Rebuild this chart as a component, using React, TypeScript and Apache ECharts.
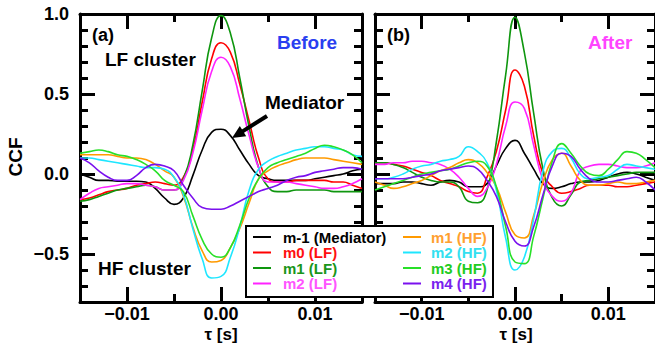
import React, { useEffect, useRef } from "react";
import * as echarts from "echarts";

// lag axis (s)
const tau = [
  -0.015, -0.014, -0.013, -0.012, -0.011, -0.01, -0.009, -0.008, -0.007, -0.006, -0.005,
  -0.004, -0.003, -0.002, -0.001, 0, 0.001, 0.002, 0.003, 0.004, 0.005, 0.006, 0.007,
  0.008, 0.009, 0.01, 0.011, 0.012, 0.013, 0.014, 0.015,
];

const seriesNames = ["m-1 (Mediator)", "m0 (LF)", "m1 (LF)", "m2 (LF)", "m1 (HF)", "m2 (HF)", "m3 (HF)", "m4 (HF)"];
const lineColors = ["#000000", "#ff0000", "#0e960e", "#ff22ff", "#ff9a00", "#1ee6ff", "#28e028", "#7a10ee"];
const labelColors = ["#000000", "#ff1010", "#1a961a", "#ff55ff", "#ffa030", "#33e0f0", "#22cc22", "#7a22ee"];

const xTickLabels = [-0.01, 0, 0.01];
const yTickLabels = [-0.5, 0, 0.5, 1.0];

// (a) Before
const beforeM_1 = [0.0, -0.02, -0.04, -0.04, -0.045, -0.045, -0.045, -0.05, -0.09, -0.15, -0.19, -0.15, -0.01, 0.15, 0.26, 0.28, 0.24, 0.15, 0.06, -0.01, -0.03, -0.04, -0.04, -0.04, -0.04, -0.03, -0.02, -0.01, 0.0, 0.02, 0.03];
const beforeM0LF = [-0.16, -0.15, -0.13, -0.11, -0.1, -0.09, -0.07, -0.06, -0.05, -0.06, -0.07, -0.02, 0.15, 0.45, 0.72, 0.82, 0.76, 0.56, 0.33, 0.1, -0.03, -0.05, -0.05, -0.04, -0.04, -0.04, -0.04, -0.05, -0.05, -0.07, -0.09];
const beforeM1LF = [-0.17, -0.16, -0.14, -0.12, -0.1, -0.09, -0.08, -0.07, -0.08, -0.1, -0.1, -0.03, 0.18, 0.52, 0.85, 0.99, 0.88, 0.6, 0.29, 0.04, -0.08, -0.11, -0.11, -0.1, -0.1, -0.1, -0.1, -0.11, -0.11, -0.11, -0.11];
const beforeM2LF = [-0.16, -0.12, -0.09, -0.08, -0.07, -0.06, -0.06, -0.07, -0.08, -0.1, -0.1, -0.04, 0.13, 0.4, 0.64, 0.73, 0.67, 0.47, 0.24, 0.04, -0.05, -0.05, -0.05, -0.06, -0.07, -0.08, -0.09, -0.09, -0.08, -0.06, -0.03];
const beforeM1HF = [0.12, 0.12, 0.12, 0.12, 0.11, 0.1, 0.1, 0.09, 0.06, 0.02, -0.02, -0.14, -0.33, -0.48, -0.55, -0.54, -0.46, -0.34, -0.18, -0.03, 0.02, 0.05, 0.07, 0.09, 0.1, 0.1, 0.1, 0.09, 0.08, 0.07, 0.06];
const beforeM2HF = [0.1, 0.1, 0.09, 0.08, 0.07, 0.06, 0.05, 0.04, 0.04, 0.03, -0.02, -0.13, -0.34, -0.53, -0.65, -0.64, -0.52, -0.33, -0.1, 0.03, 0.08, 0.11, 0.13, 0.15, 0.16, 0.17, 0.17, 0.16, 0.15, 0.12, 0.11];
const beforeM3HF = [0.13, 0.14, 0.15, 0.14, 0.12, 0.11, 0.09, 0.06, 0.02, -0.04, -0.07, -0.11, -0.26, -0.41, -0.5, -0.52, -0.46, -0.32, -0.15, -0.03, 0.04, 0.07, 0.09, 0.11, 0.13, 0.16, 0.18, 0.17, 0.15, 0.12, 0.07];
const beforeM4HF = [0.1, 0.07, 0.02, -0.02, -0.04, -0.04, -0.01, 0.04, 0.06, 0.05, 0.02, -0.07, -0.15, -0.21, -0.22, -0.22, -0.2, -0.17, -0.14, -0.11, -0.09, -0.07, -0.04, -0.02, -0.01, 0.01, 0.02, 0.03, 0.04, 0.04, 0.03];

// (b) After
const afterM_1 = [-0.06, -0.06, -0.06, -0.05, -0.05, -0.06, -0.07, -0.05, -0.04, -0.05, -0.08, -0.08, -0.06, 0.05, 0.16, 0.21, 0.13, 0.03, -0.06, -0.09, -0.08, -0.06, -0.05, -0.05, -0.04, -0.02, 0.0, 0.01, 0.0, -0.02, -0.04];
const afterM0LF = [0.07, 0.07, 0.06, 0.05, 0.03, 0.01, -0.01, -0.04, -0.06, -0.08, -0.11, -0.12, -0.02, 0.14, 0.4, 0.65, 0.55, 0.24, 0.0, -0.08, -0.12, -0.11, -0.09, -0.07, -0.07, -0.07, -0.08, -0.08, -0.07, -0.06, -0.05];
const afterM1LF = [0.07, 0.07, 0.06, 0.04, 0.01, -0.02, -0.04, -0.05, -0.05, -0.08, -0.17, -0.18, -0.1, 0.2, 0.62, 0.98, 0.76, 0.38, 0.03, -0.15, -0.2, -0.13, -0.05, -0.04, -0.03, -0.02, -0.01, 0.0, 0.01, 0.01, 0.01];
const afterM2LF = [0.06, 0.06, 0.07, 0.07, 0.08, 0.08, 0.07, 0.06, 0.03, -0.02, -0.09, -0.14, -0.09, 0.06, 0.3, 0.45, 0.41, 0.18, -0.04, -0.14, -0.17, -0.12, 0.02, 0.05, 0.06, 0.06, 0.05, 0.04, 0.04, 0.05, 0.07];
const afterM1HF = [-0.05, -0.07, -0.09, -0.08, -0.06, -0.04, -0.01, 0.02, 0.04, 0.07, 0.09, 0.07, 0.01, -0.08, -0.24, -0.38, -0.4, -0.26, -0.05, 0.09, 0.13, 0.05, -0.04, -0.07, -0.07, -0.06, -0.05, -0.06, -0.06, -0.05, -0.04];
const afterM2HF = [-0.03, -0.03, -0.02, 0.0, 0.03, 0.05, 0.06, 0.08, 0.09, 0.11, 0.17, 0.14, 0.07, -0.1, -0.4, -0.6, -0.52, -0.28, 0.02, 0.14, 0.16, 0.1, 0.0, -0.03, -0.02, -0.01, 0.03, 0.06, 0.05, 0.04, 0.03];
const afterM3HF = [-0.1, -0.08, -0.06, -0.04, -0.02, 0.0, 0.01, 0.02, 0.03, 0.05, 0.07, 0.08, 0.05, -0.08, -0.33, -0.55, -0.56, -0.39, -0.15, 0.08, 0.19, 0.13, 0.05, 0.0, -0.01, 0.03, 0.09, 0.14, 0.13, 0.09, 0.04];
const afterM4HF = [-0.03, -0.03, -0.03, -0.03, -0.02, -0.01, 0.0, 0.02, 0.03, 0.04, 0.05, 0.03, -0.04, -0.14, -0.3, -0.42, -0.45, -0.33, -0.13, 0.05, 0.13, 0.11, 0.03, -0.03, -0.05, -0.05, -0.04, -0.03, -0.02, -0.05, -0.1];

const beforeSeries = [beforeM_1, beforeM0LF, beforeM1LF, beforeM2LF, beforeM1HF, beforeM2HF, beforeM3HF, beforeM4HF];
const afterSeries = [afterM_1, afterM0LF, afterM1LF, afterM2LF, afterM1HF, afterM2HF, afterM3HF, afterM4HF];

const FONT = '"Liberation Sans", Arial, Helvetica, sans-serif';
const MINUS = "\u2212";

const fmt = (v: number, digits: number) => {
  const s = Math.abs(v).toFixed(digits);
  return v < -1e-9 ? MINUS + s : s;
};

const X_MIN = -0.015;
const X_MAX = 0.015;
const Y_MIN = -0.8;
const Y_MAX = 1.0;

function xAxesFor(gridIndex: number) {
  const common = {
    gridIndex,
    type: "value",
    min: X_MIN,
    max: X_MAX,
    splitLine: { show: false },
  };
  const frame = { show: true, onZero: false, lineStyle: { color: "#000", width: 3 } };
  const noLine = { show: false, onZero: false };
  return [
    {
      ...common,
      position: "bottom",
      axisLine: frame,
      axisTick: { show: true, inside: true, length: 15, customValues: xTickLabels, lineStyle: { color: "#000", width: 3 } },
      axisLabel: {
        show: true,
        customValues: xTickLabels,
        formatter: (v: number) => fmt(v, 2),
        color: "#000",
        fontFamily: FONT,
        fontWeight: "bold",
        fontSize: 18,
        lineHeight: 18,
        margin: 3,
      },
    },
    {
      ...common,
      position: "bottom",
      interval: 0.005,
      axisLine: noLine,
      axisTick: { show: true, inside: true, length: 8, lineStyle: { color: "#000", width: 3 } },
      axisLabel: { show: false },
    },
    {
      ...common,
      position: "top",
      axisLine: frame,
      axisTick: { show: true, inside: true, length: 15, customValues: xTickLabels, lineStyle: { color: "#000", width: 3 } },
      axisLabel: { show: false },
    },
    {
      ...common,
      position: "top",
      interval: 0.005,
      axisLine: noLine,
      axisTick: { show: true, inside: true, length: 8, lineStyle: { color: "#000", width: 3 } },
      axisLabel: { show: false },
    },
  ];
}

function yAxesFor(gridIndex: number, withLabels: boolean) {
  const common = {
    gridIndex,
    type: "value",
    min: Y_MIN,
    max: Y_MAX,
    splitLine: { show: false },
  };
  const frame = { show: true, onZero: false, lineStyle: { color: "#000", width: 3 } };
  const noLine = { show: false, onZero: false };
  const major = { show: true, inside: true, length: 15, customValues: yTickLabels, lineStyle: { color: "#000", width: 3 } };
  const minor = { show: true, inside: true, length: 8, lineStyle: { color: "#000", width: 3 } };
  return [
    {
      ...common,
      position: "left",
      axisLine: frame,
      axisTick: major,
      axisLabel: withLabels
        ? {
            show: true,
            customValues: yTickLabels,
            formatter: (v: number) => fmt(v, 1),
            color: "#000",
            fontFamily: FONT,
            fontWeight: "bold",
            fontSize: 18,
            margin: 11,
          }
        : { show: false },
    },
    { ...common, position: "left", interval: 0.1, axisLine: noLine, axisTick: minor, axisLabel: { show: false } },
    { ...common, position: "right", axisLine: frame, axisTick: major, axisLabel: { show: false } },
    { ...common, position: "right", interval: 0.1, axisLine: noLine, axisTick: minor, axisLabel: { show: false } },
  ];
}

function linesFor(panel: number[][], axisIndex: number) {
  return panel.map((vals, i) => ({
    name: seriesNames[i],
    type: "line",
    xAxisIndex: axisIndex,
    yAxisIndex: axisIndex,
    data: tau.map((t, k) => [t, vals[k]]),
    smooth: true,
    showSymbol: false,
    symbol: "none",
    lineStyle: { color: lineColors[i], width: 1.6 },
    itemStyle: { color: lineColors[i] },
    z: 2,
  }));
}

function legendGraphics() {
  const els: any[] = [
    {
      type: "rect",
      shape: { x: 246, y: 226, width: 247, height: 71 },
      style: { fill: "#fff", stroke: "#000", lineWidth: 2 },
      z: 20,
    },
  ];
  const rowY = [237, 252.5, 268, 283.5];
  seriesNames.forEach((name, i) => {
    const col = i < 4 ? 0 : 1;
    const row = i % 4;
    const lx = col === 0 ? 253 : 403;
    const tx = col === 0 ? 283 : 431;
    els.push({
      type: "line",
      shape: { x1: lx, y1: rowY[row], x2: lx + 18, y2: rowY[row] },
      style: { stroke: lineColors[i], lineWidth: 2 },
      z: 21,
    });
    els.push({
      type: "text",
      x: tx,
      y: rowY[row],
      style: {
        text: name,
        fill: labelColors[i],
        font: `bold 15px ${FONT}`,
        textAlign: "left",
        textVerticalAlign: "middle",
      },
      z: 21,
    });
  });
  return els;
}

function annotationGraphics() {
  const text = (s: string, x: number, y: number, fill = "#000", size = 19, align = "left") => ({
    type: "text",
    x,
    y,
    style: { text: s, fill, font: `bold ${size}px ${FONT}`, textAlign: align, textVerticalAlign: "middle" },
    z: 15,
  });
  // arrow pointing at the mediator peak
  const tip = [232, 138];
  const tail = [267, 116];
  const dx = tip[0] - tail[0];
  const dy = tip[1] - tail[1];
  const len = Math.hypot(dx, dy);
  const ux = dx / len;
  const uy = dy / len;
  const headLen = 13;
  const headHalf = 6;
  const bx = tip[0] - ux * headLen;
  const by = tip[1] - uy * headLen;
  const px = -uy * headHalf;
  const py = ux * headHalf;
  return [
    text("(a)", 92, 35, "#000", 18),
    text("(b)", 387, 35, "#000", 18),
    text("Before", 277, 42, "#2a3ff0"),
    text("After", 588, 42, "#ff44ff"),
    text("LF cluster", 105, 59),
    text("Mediator", 265, 102),
    text("HF cluster", 98, 268),
    text("\u03c4 [s]", 221, 334, "#000", 17, "center"),
    text("\u03c4 [s]", 516, 334, "#000", 17, "center"),
    {
      type: "text",
      x: 15,
      y: 157,
      rotation: Math.PI / 2,
      style: { text: "CCF", fill: "#000", font: `bold 19px ${FONT}`, textAlign: "center", textVerticalAlign: "middle" },
      z: 15,
    },
    {
      type: "line",
      shape: { x1: tail[0], y1: tail[1], x2: bx + ux, y2: by + uy },
      style: { stroke: "#000", lineWidth: 4 },
      z: 15,
    },
    {
      type: "polygon",
      shape: { points: [tip, [bx + px, by + py], [bx - px, by - py]] },
      style: { fill: "#000" },
      z: 15,
    },
  ];
}

export default function App() {
  const ref = useRef<HTMLDivElement>(null);

  useEffect(() => {
    if (!ref.current) return;
    const chart = echarts.init(ref.current, undefined, { renderer: "svg" });
    chart.setOption({
      animation: false,
      backgroundColor: "#ffffff",
      textStyle: { fontFamily: FONT },
      grid: [
        { left: 80, top: 14, width: 282, height: 288, outerBoundsMode: "none", containLabel: false },
        { left: 375, top: 14, width: 280, height: 288, outerBoundsMode: "none", containLabel: false },
      ],
      xAxis: [...xAxesFor(0), ...xAxesFor(1)],
      yAxis: [...yAxesFor(0, true), ...yAxesFor(1, false)],
      series: [...linesFor(beforeSeries, 0), ...linesFor(afterSeries, 4)],
      graphic: [...annotationGraphics(), ...legendGraphics()],
    });
    return () => chart.dispose();
  }, []);

  return (
    <div
      ref={ref}
      style={{ position: "absolute", left: 0, top: 0, width: 655, height: 346, background: "#fff" }}
    />
  );
}
